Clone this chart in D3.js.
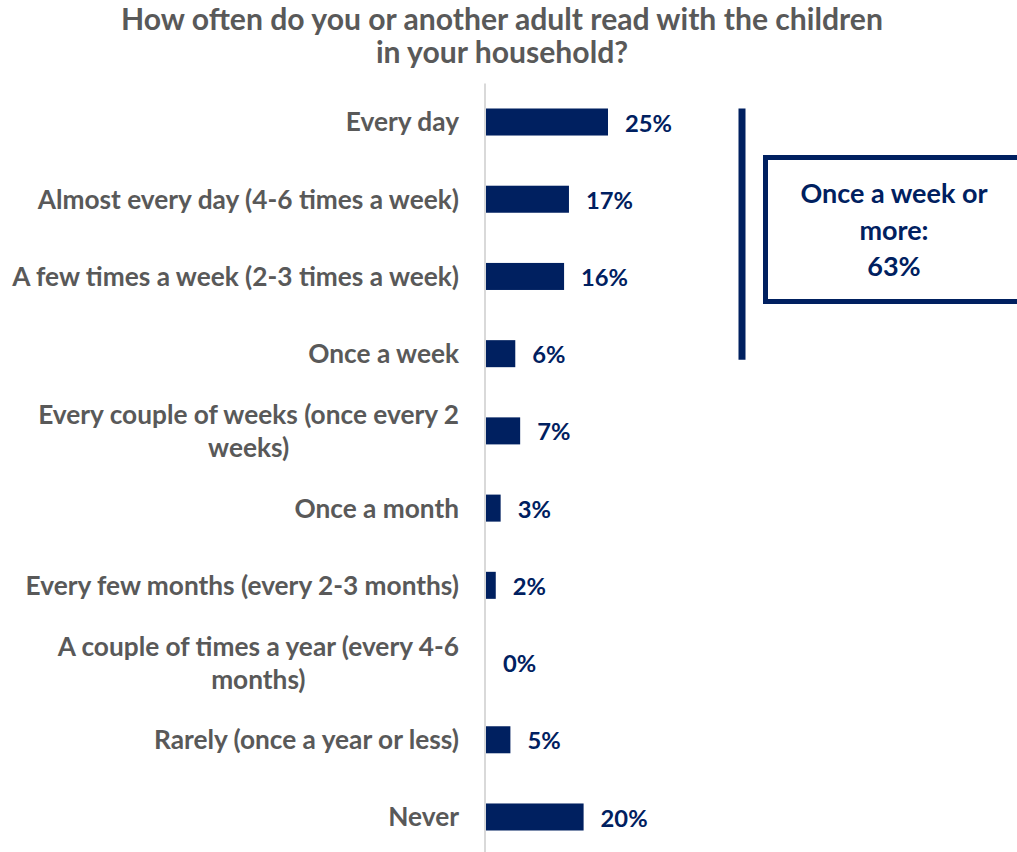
<!DOCTYPE html>
<html>
<head>
<meta charset="utf-8">
<script src="https://cdn.jsdelivr.net/npm/d3@7"></script>
<style>
  html, body { margin: 0; padding: 0; background: #ffffff; }
  svg { display: block; }
</style>
</head>
<body>
<svg id="chart" width="1017" height="852"></svg>
<script>
// Survey responses: reading frequency with children in the household
const titleLines = ["How often do you or another adult read with the children", "in your household?"];
const categories = [
  "Every day",
  "Almost every day (4-6 times a week)",
  "A few times a week (2-3 times a week)",
  "Once a week",
  "Every couple of weeks (once every 2 weeks)",
  "Once a month",
  "Every few months (every 2-3 months)",
  "A couple of times a year (every 4-6 months)",
  "Rarely (once a year or less)",
  "Never"
];
const values = [25, 17, 16, 6, 7, 3, 2, 0, 5, 20];
const summaryLines = ["Once a week or", "more:", "63%"];

const NAVY = "#002060";
const GRAY = "#595959";
const FONT = "Lato, 'Open Sans', sans-serif";

const svg = d3.select("#chart");

// Measure text width at a reference size so sizes can be set from target widths
function fitSize(str, targetWidth) {
  const t = svg.append("text")
    .attr("font-family", FONT).attr("font-weight", 700)
    .attr("font-size", 100).text(str);
  const w = t.node().getComputedTextLength();
  t.remove();
  return 100 * targetWidth / w;
}
function measure(str, size) {
  const t = svg.append("text")
    .attr("font-family", FONT).attr("font-weight", 700)
    .attr("font-size", size).text(str);
  const w = t.node().getComputedTextLength();
  t.remove();
  return w;
}

const labelSize = fitSize(categories[2], 447);
const valueSize = fitSize("25%", 47);
const titleSize = fitSize(titleLines[0], 762);
const boxSize = fitSize(summaryLines[0], 187);
const CAP = 0.72; // cap-height ratio used to centre text vertically

// Scales
const y = d3.scaleBand()
  .domain(categories)
  .range([83.4, 855.6])
  .paddingInner(0.65)
  .paddingOuter(0.325);

const x = d3.scaleLinear()
  .domain([0, 25])
  .range([486, 608]);

// Title
svg.append("g")
  .selectAll("text")
  .data(titleLines)
  .join("text")
  .attr("x", 502)
  .attr("y", (d, i) => 30 + i * 32.5)
  .attr("text-anchor", "middle")
  .attr("font-family", FONT)
  .attr("font-weight", 700)
  .attr("font-size", titleSize)
  .attr("fill", GRAY)
  .text(d => d);

// Category axis line
svg.append("line")
  .attr("x1", x(0) - 1).attr("x2", x(0) - 1)
  .attr("y1", y.range()[0]).attr("y2", y.range()[1])
  .attr("stroke", "#d9d9d9")
  .attr("stroke-width", 2);

// Bars
svg.append("g")
  .selectAll("rect")
  .data(values)
  .join("rect")
  .attr("x", x(0))
  .attr("y", (d, i) => y(categories[i]))
  .attr("width", d => Math.max(0, x(d) - x(0)))
  .attr("height", y.bandwidth())
  .attr("fill", NAVY);

// Value labels
svg.append("g")
  .selectAll("text")
  .data(values)
  .join("text")
  .attr("x", d => x(d) + 17)
  .attr("y", (d, i) => y(categories[i]) + y.bandwidth() / 2 + valueSize * CAP / 2 + 1)
  .attr("font-family", FONT)
  .attr("font-weight", 700)
  .attr("font-size", valueSize)
  .attr("fill", NAVY)
  .text(d => d + "%");

// Category labels, wrapped and centred within a right-aligned block
const wrapWidth = 455;
function wrap(str) {
  const words = str.split(" ");
  const lines = [];
  let line = "";
  words.forEach(w => {
    const test = line ? line + " " + w : w;
    if (line && measure(test, labelSize) > wrapWidth) {
      lines.push(line);
      line = w;
    } else {
      line = test;
    }
  });
  if (line) lines.push(line);
  return lines;
}

const labelRight = 459;
const lineGap = 33;
const labels = svg.append("g");
categories.forEach(cat => {
  const lines = wrap(cat);
  const widths = lines.map(l => measure(l, labelSize));
  const blockW = d3.max(widths);
  const cx = labelRight - blockW / 2;
  const cy = y(cat) + y.bandwidth() / 2;
  lines.forEach((l, j) => {
    const offset = (j - (lines.length - 1) / 2) * lineGap;
    labels.append("text")
      .attr("x", lines.length > 1 ? cx : labelRight)
      .attr("y", cy + offset + labelSize * CAP / 2)
      .attr("text-anchor", lines.length > 1 ? "middle" : "end")
      .attr("font-family", FONT)
      .attr("font-weight", 700)
      .attr("font-size", labelSize)
      .attr("fill", GRAY)
      .text(l);
  });
});

// Bracket spanning the "once a week or more" rows
const bracketTop = y(categories[0]);
const bracketBottom = y(categories[3]) + y.bandwidth() / 2 + 6;
svg.append("line")
  .attr("x1", 742).attr("x2", 742)
  .attr("y1", bracketTop).attr("y2", bracketBottom)
  .attr("stroke", NAVY)
  .attr("stroke-width", 7);

// Summary box
svg.append("rect")
  .attr("x", 765.5)
  .attr("y", 157.5)
  .attr("width", 260)
  .attr("height", 144)
  .attr("fill", "#ffffff")
  .attr("stroke", NAVY)
  .attr("stroke-width", 5);

svg.append("g")
  .selectAll("text")
  .data(summaryLines)
  .join("text")
  .attr("x", 894)
  .attr("y", (d, i) => 203 + i * 36.5)
  .attr("text-anchor", "middle")
  .attr("font-family", FONT)
  .attr("font-weight", 700)
  .attr("font-size", boxSize)
  .attr("fill", NAVY)
  .text(d => d);
</script>
</body>
</html>
